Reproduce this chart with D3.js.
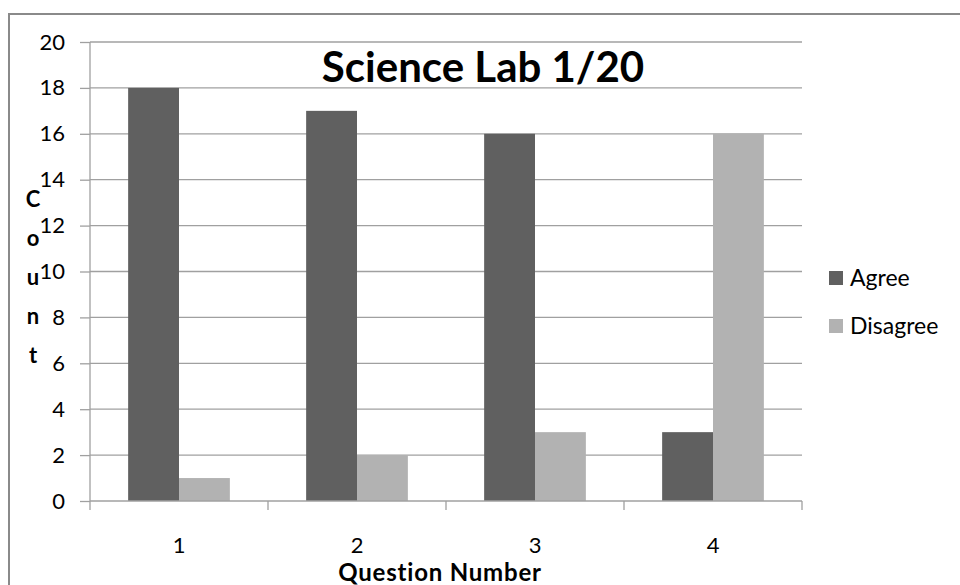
<!DOCTYPE html>
<html>
<head>
<meta charset="utf-8">
<script src="https://cdn.jsdelivr.net/npm/d3@7"></script>
<style>
  body { margin: 0; background: #fff; }
  text { font-family: Lato, "Open Sans", sans-serif; fill: #000; }
</style>
</head>
<body>
<div id="chart"></div>
<script>
// data
const questions = ["1", "2", "3", "4"];
const agree = [18, 17, 16, 3];
const disagree = [1, 2, 3, 16];
const seriesNames = ["Agree", "Disagree"];
const seriesColors = ["#606060", "#b2b2b2"];
const yTicks = [0, 2, 4, 6, 8, 10, 12, 14, 16, 18, 20];

const W = 960, H = 585;
const margin = { left: 90, right: 158, top: 42, bottom: 84 };
const width = W - margin.left - margin.right;
const height = H - margin.top - margin.bottom;

const svg = d3.select("#chart").append("svg")
  .attr("width", W)
  .attr("height", H);

// chart area border (right/bottom are cut off in the original)
svg.append("rect")
  .attr("x", 9).attr("y", 14)
  .attr("width", W + 20).attr("height", H + 20)
  .attr("fill", "none")
  .attr("stroke", "#8a8a8a")
  .attr("stroke-width", 2);

const chart = svg.append("g")
  .attr("transform", `translate(${margin.left},${margin.top})`);

const data = questions.map((q, i) => ({ name: q, Agree: agree[i], Disagree: disagree[i] }));

const x0 = d3.scaleBand()
  .domain(questions)
  .range([0, width]);

// gap width 150% like the spreadsheet default
const x1 = d3.scaleBand()
  .domain(seriesNames)
  .range([x0.bandwidth() * 0.75 / 3.5, x0.bandwidth() * 2.75 / 3.5]);

const y = d3.scaleLinear()
  .domain([0, 20])
  .range([height, 0]);

// gridlines
chart.append("g")
  .attr("class", "grid")
  .selectAll("line")
  .data(yTicks.slice(1))
  .join("line")
  .attr("x1", 0).attr("x2", width)
  .attr("y1", d => y(d)).attr("y2", d => y(d))
  .attr("stroke", "#a0a0a0")
  .attr("stroke-width", 1.3);

// bars
chart.selectAll("g.q").data(data)
  .join("g")
  .attr("class", "q")
  .attr("transform", d => `translate(${x0(d.name)},0)`)
  .selectAll("rect")
  .data(d => seriesNames.map((k, i) => ({ key: k, value: d[k], color: seriesColors[i] })))
  .join("rect")
  .attr("x", d => x1(d.key))
  .attr("y", d => y(d.value))
  .attr("width", x1.bandwidth())
  .attr("height", d => y(0) - y(d.value))
  .attr("fill", d => d.color);

// y axis
const yAxis = chart.append("g")
  .call(d3.axisLeft(y).tickValues(yTicks).tickSize(10).tickPadding(15));
yAxis.selectAll("line").attr("stroke", "#a0a0a0").attr("stroke-width", 1.3);
yAxis.select(".domain").attr("stroke", "#a0a0a0").attr("stroke-width", 1.3).attr("d", `M0,0V${height}`);
yAxis.selectAll("text").attr("font-size", 22).attr("font-family", "Lato, sans-serif").attr("fill", "#222");

// x axis
const xAxis = chart.append("g")
  .attr("transform", `translate(0,${height})`)
  .call(d3.axisBottom(x0).tickSize(0).tickPadding(36));
xAxis.select(".domain").attr("stroke", "#a0a0a0").attr("stroke-width", 1.3).attr("d", `M0,0H${width}`);
xAxis.selectAll("text").attr("font-size", 22).attr("font-family", "Lato, sans-serif").attr("fill", "#222");
xAxis.selectAll(".sep")
  .data(d3.range(questions.length + 1))
  .join("line")
  .attr("class", "sep")
  .attr("x1", i => i * x0.step()).attr("x2", i => i * x0.step())
  .attr("y1", 0).attr("y2", 9)
  .attr("stroke", "#a0a0a0").attr("stroke-width", 1.3);

// title
svg.append("text")
  .attr("x", 483).attr("y", 82)
  .attr("text-anchor", "middle")
  .attr("font-size", 42)
  .attr("font-weight", "bold")
  .text("Science Lab 1/20");

// x title
svg.append("text")
  .attr("x", 440).attr("y", 581)
  .attr("text-anchor", "middle")
  .attr("font-size", 24)
  .attr("letter-spacing", 0.8)
  .attr("font-weight", "bold")
  .text("Question Number");

// y title, stacked letters
svg.append("g")
  .selectAll("text")
  .data("Count".split(""))
  .join("text")
  .attr("x", 33)
  .attr("y", (d, i) => 207 + i * 39)
  .attr("text-anchor", "middle")
  .attr("font-size", 22)
  .attr("font-weight", "bold")
  .text(d => d);

// legend
const legend = svg.append("g")
  .attr("transform", "translate(829,271)")
  .selectAll("g")
  .data(seriesNames)
  .join("g")
  .attr("transform", (d, i) => `translate(0,${i * 48})`);
legend.append("rect")
  .attr("width", 14).attr("height", 14)
  .attr("fill", (d, i) => seriesColors[i]);
legend.append("text")
  .attr("x", 21).attr("y", 15)
  .attr("font-size", 23)
  .attr("fill", "#222")
  .text(d => d);
</script>
</body>
</html>
